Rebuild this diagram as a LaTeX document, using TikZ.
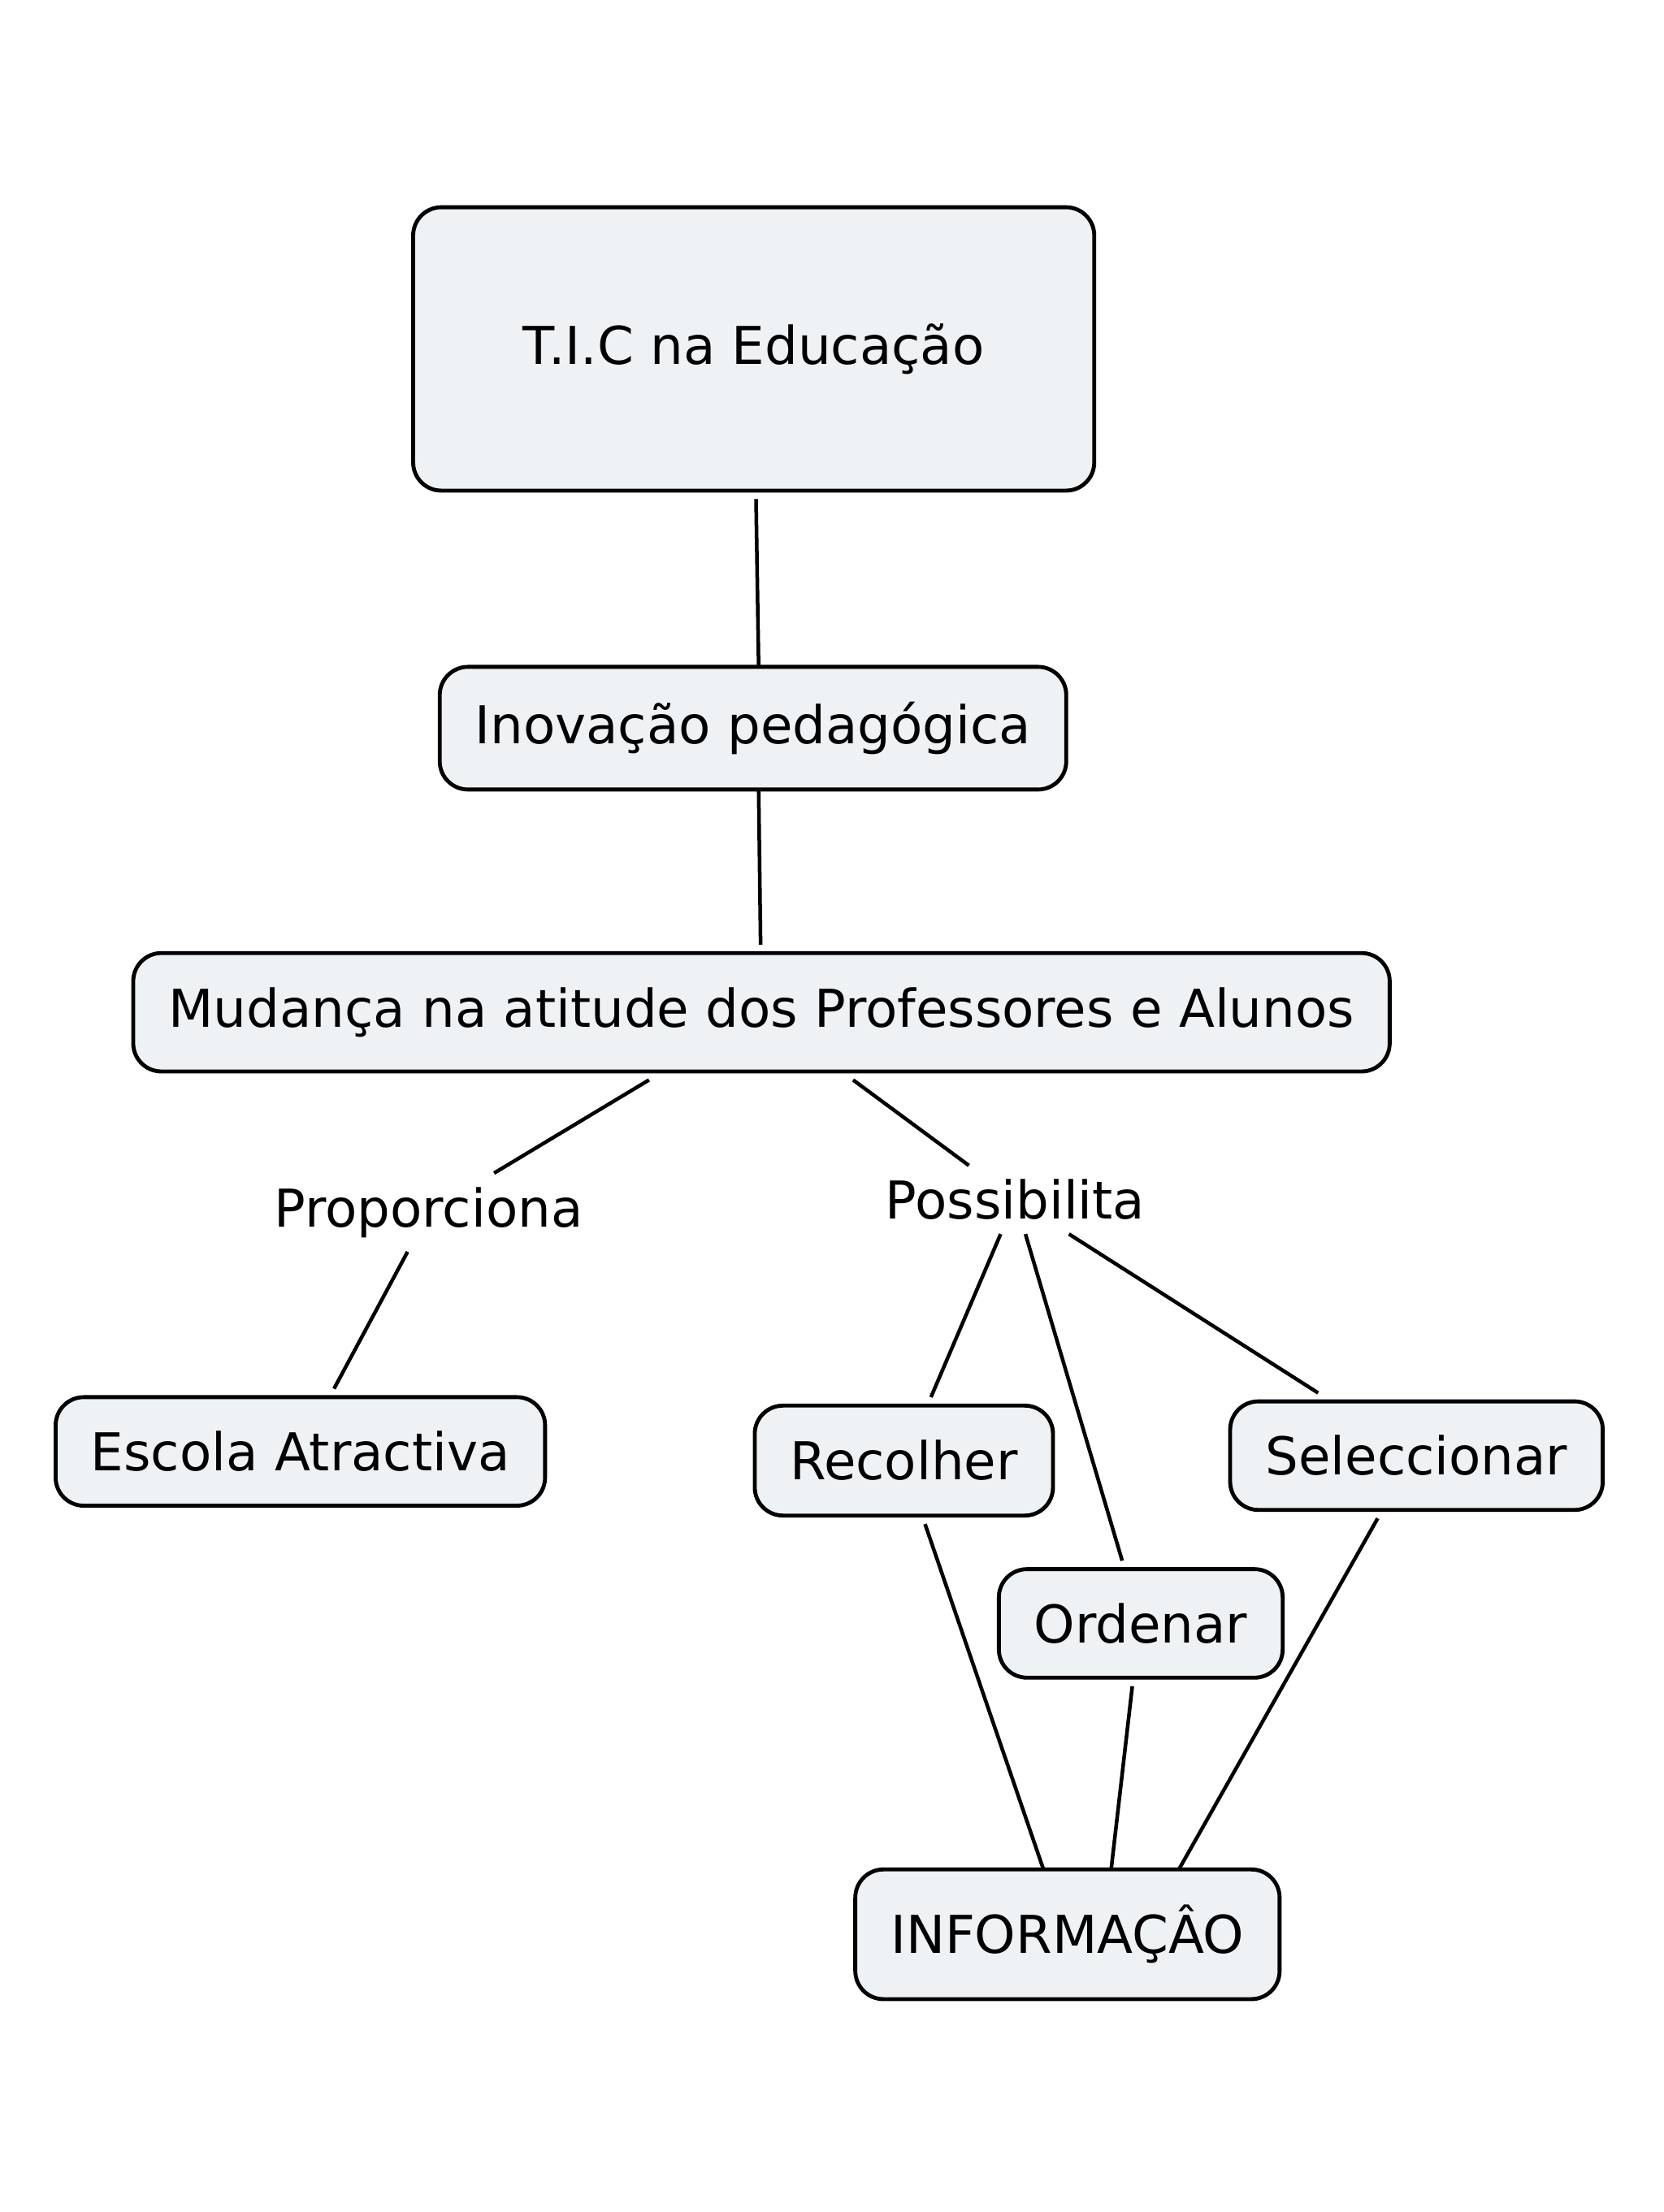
\documentclass[tikz,border=0pt]{standalone}
\usepackage{fontspec}
\setmainfont{DejaVu Sans}
\usepackage{xcolor}
\usepackage{tikz}
\usetikzlibrary{positioning}
\definecolor{conceptFill}{HTML}{EEF2F5}
\tikzset{concept-line/.style={line width=1.3pt}}
\tikzset{concept-node/.style={draw, line width=1.4pt, fill=conceptFill, rounded corners=10pt,
    inner xsep=12.5pt, inner ysep=0pt, minimum height=38.5pt, outer sep=3pt,
    font=\fontsize{18.5}{22}\selectfont}}
\tikzset{link-label/.style={inner sep=3pt, outer sep=2pt, font=\fontsize{18.5}{22}\selectfont}}

\begin{document}
\begin{tikzpicture}[x=0.5pt, y=-0.5pt]
    \useasboundingbox (0,0) rectangle (1180,1569);

    \node[concept-node, minimum width=241.5pt, minimum height=100.5pt] (tic) at (534.5,247.5) {T.I.C na Educação};
    \node[concept-node, minimum height=43.5pt] (inovacao) at (534,516.5) {Inovação pedagógica};
    \node[concept-node, minimum height=42pt] (mudanca) at (540,718) {Mudança na atitude dos Professores e Alunos};

    \node[link-label] (proporciona) at (304,860) {Proporciona};
    \node[link-label] (possibilita) at (720,851) {Possibilita};

    \node[concept-node] (escola) at (213,1029.5) {Escola Atractiva};
    \node[concept-node, minimum height=39pt] (recolher) at (641,1036) {Recolher};
    \node[concept-node] (seleccionar) at (1004.5,1032.5) {Seleccionar};
    \node[concept-node] (ordenar) at (809,1151.5) {Ordenar};
    \node[concept-node, minimum height=46pt] (informacao) at (757,1372) {INFORMAÇÂO};

    \draw[concept-line] (tic) -- ([xshift=2pt,yshift=-3pt]inovacao.north);
    \draw[concept-line] ([xshift=2pt,yshift=3pt]inovacao.south) -- (mudanca);
    \draw[concept-line] (mudanca) -- (proporciona);
    \draw[concept-line] (proporciona) -- (escola);
    \draw[concept-line] (mudanca) -- (possibilita);
    \draw[concept-line] (possibilita) -- (recolher);
    \draw[concept-line] (possibilita) -- (ordenar);
    \draw[concept-line] (possibilita) -- (seleccionar);

    % lines into the bottom concept
    \draw[concept-line] ([xshift=7.5pt]recolher.south) -- ([xshift=-8.5pt,yshift=-3pt]informacao.north);
    \draw[concept-line] ([xshift=-3pt]ordenar.south) -- ([xshift=15.5pt,yshift=-3pt]informacao.north);
    \draw[concept-line] ([xshift=-13.75pt]seleccionar.south) -- ([xshift=39.5pt,yshift=-3pt]informacao.north);
\end{tikzpicture}
\end{document}
